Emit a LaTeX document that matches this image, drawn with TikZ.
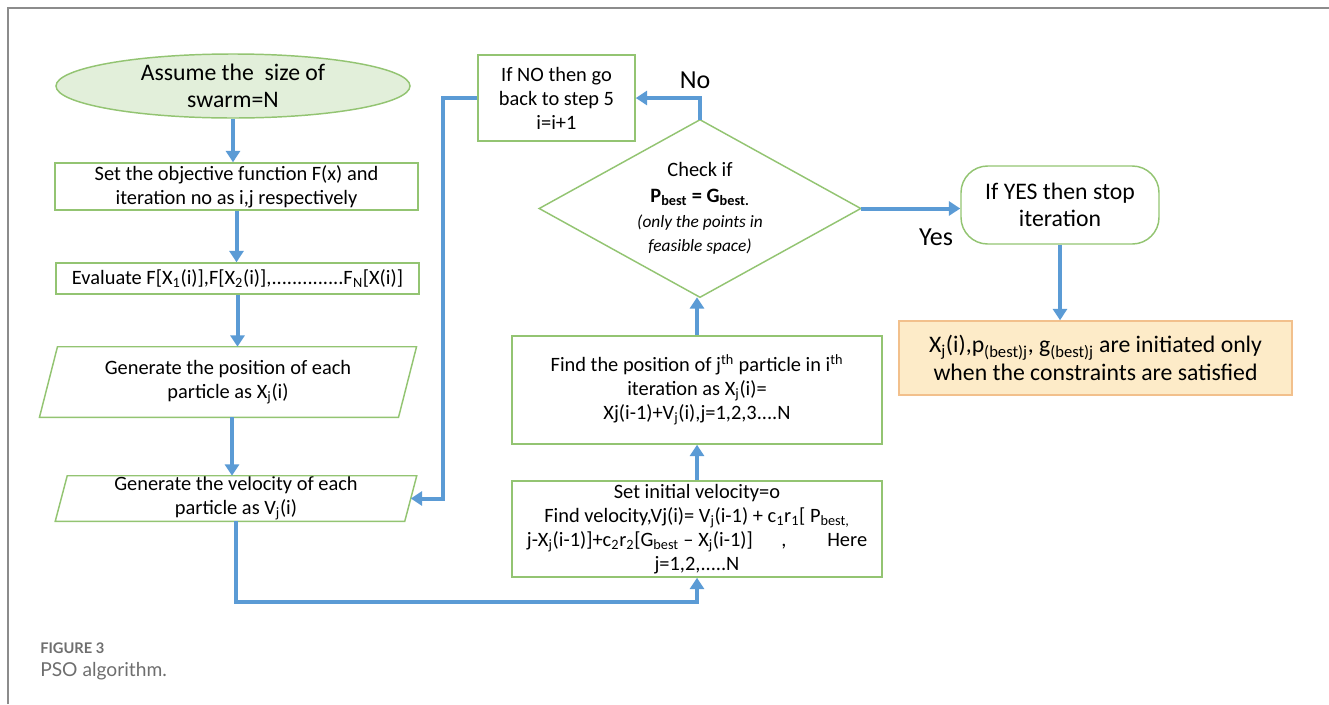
\documentclass[tikz,border=0pt]{standalone}
\usepackage{fontspec}
\setmainfont{Carlito}
\newfontfamily\capfont{Lato}
\usetikzlibrary{arrows.meta,shapes.geometric,calc}

\definecolor{flowblue}{HTML}{5B9BD5}
\definecolor{boxgreen}{HTML}{93C472}
\definecolor{startfill}{HTML}{E2EFDA}
\definecolor{notefill}{HTML}{FDEBC8}
\definecolor{noteedge}{HTML}{F2C08C}
\definecolor{framegray}{HTML}{8C8C8C}
\definecolor{capgray}{HTML}{6E6E6E}

\newcommand\bodyfs{\fontsize{15.3}{18}\selectfont}
\newcommand\bigfs{\fontsize{17.8}{20.5}\selectfont}
\newcommand\notefs{\fontsize{13}{15.5}\selectfont}

\tikzset{
  gbox/.style={draw=boxgreen, line width=1.1pt, inner sep=0pt, align=center, font=\bodyfs},
  ghost/.style={inner sep=0pt, align=center, font=\bodyfs},
  flow/.style={draw=flowblue, line width=3pt, -{Triangle[width=10.5pt,length=8.5pt]}},
  lbl/.style={inner sep=0pt, font=\fontsize{19.5}{22}\selectfont},
}

\begin{document}
\begin{tikzpicture}[x=0.75pt,y=-0.75pt]
\useasboundingbox (0,0) rectangle (1329,704);

% outer frame
\draw[framegray, line width=1.5pt] (8,704) -- (8,8) -- (1329,8);

% left column
\node[ellipse, draw=boxgreen, fill=startfill, line width=1.1pt, inner sep=0pt,
      minimum width=265.5pt, minimum height=48pt, align=center, font=\bigfs]
  (start) at (233,86) {Assume the\ \ size of\\swarm=N};

\node[gbox, minimum width=272.25pt, minimum height=35.25pt] (objf) at (236.5,186.5)
  {Set the objective function F(x) and\\iteration no as i,j respectively};

\node[gbox, minimum width=272.25pt, minimum height=23.25pt] (eval) at (237.5,278.5)
  {Evaluate F[X\textsubscript{1}(i)],F[X\textsubscript{2}(i)],..............F\textsubscript{N}[X(i)]};

\node[ghost, minimum width=268.9pt, minimum height=52.5pt] (pos) at (228,382)
  {Generate the position of each\\particle as X\textsubscript{j}(i)};
\draw[boxgreen, line width=1.1pt]
  ($(pos.north west)+(9,0)$) -- ($(pos.north east)+(9,0)$) --
  ($(pos.south east)+(-9,0)$) -- ($(pos.south west)+(-9,0)$) -- cycle;

\node[ghost, minimum width=261.75pt, minimum height=33.75pt] (vel) at (236,498.5)
  {Generate the velocity of each\\particle as V\textsubscript{j}(i)};
\draw[boxgreen, line width=1.1pt]
  ($(vel.north west)+(6,0)$) -- ($(vel.north east)+(6,0)$) --
  ($(vel.south east)+(-6,0)$) -- ($(vel.south west)+(-6,0)$) -- cycle;

% middle column
\node[gbox, minimum width=117.75pt, minimum height=64.5pt] (back) at (556.5,98)
  {If NO then go\\back to step 5\\i=i+1};

\node[ghost, minimum width=240.75pt, minimum height=132.75pt] (chk) at (700,208.5)
  {Check if\\[1pt]\textbf{P\textsubscript{best} = G\textsubscript{best.}}\\[1pt]
   \notefs\itshape (only the points in\\\notefs\itshape feasible space)};
\draw[boxgreen, line width=1.1pt] (chk.north) -- (chk.east) -- (chk.south) -- (chk.west) -- cycle;

\node[gbox, minimum width=277.5pt, minimum height=81pt] (findpos) at (697,390)
  {Find the position of j\textsuperscript{th} particle in i\textsuperscript{th}\\
   iteration as X\textsubscript{j}(i)=\\
   Xj(i-1)+V\textsubscript{j}(i),j=1,2,3....N};

\node[gbox, minimum width=277.5pt, minimum height=72pt] (setv) at (697,529)
  {Set initial velocity=o\\
   Find velocity,Vj(i)= V\textsubscript{j}(i-1) + c\textsubscript{1}r\textsubscript{1}[ P\textsubscript{best,}\\
   j-X\textsubscript{j}(i-1)]+c\textsubscript{2}r\textsubscript{2}[G\textsubscript{best} -- X\textsubscript{j}(i-1)]\hspace{1.4em},\hspace{2em}Here\\
   j=1,2,.....N};

% right column
\node[draw=boxgreen, line width=1.1pt, rounded corners=20pt, inner sep=0pt,
      minimum width=148.5pt, minimum height=58.5pt, align=center, font=\bigfs]
  (stop) at (1060,205) {If YES then stop\\iteration};

\node[draw=noteedge, fill=notefill, line width=1.1pt, inner sep=0pt,
      minimum width=294.75pt, minimum height=55.5pt, align=center, font=\bigfs]
  (note) at (1095.5,358)
  {X\textsubscript{j}(i),p\textsubscript{(best)j}, g\textsubscript{(best)j} are initiated only\\when the constraints are satisfied};

% connectors
\draw[flow] (start.south) -- (start.south |- objf.north);
\draw[flow] (objf.south) -- (objf.south |- eval.north);
\draw[flow] (eval.south) -- (eval.south |- pos.north);
\draw[flow] ([xshift=3pt]pos.south) -- ([xshift=3pt]pos.south |- vel.north);

\coordinate (lowrun) at (400,602);
\draw[flow] (vel.south) |- (lowrun) -| (setv.south);
\draw[flow] (setv.north) -- (findpos.south);
\draw[flow] (findpos.north) -- (findpos.north |- chk.south);
\draw[flow] (chk.north) |- (back.east);

\coordinate (loopx) at (443,300);
\draw[flow] (back.west) -| (loopx) |- (vel.east);

\draw[flow] (chk.east) -- (chk.east -| stop.west);
\draw[flow] (stop.south) -- (stop.south |- note.north);

% branch labels
\node[lbl] (nolbl) at (695,80) {No};
\node[lbl] (yeslbl) at (936,237) {Yes};

% caption
\node[anchor=west, inner sep=0pt, text=capgray, font=\capfont\bfseries\fontsize{11}{13}\selectfont]
  (capnum) at (40,648) {FIGURE 3};
\node[anchor=west, inner sep=0pt, text=capgray, font=\capfont\fontsize{14.4}{17}\selectfont]
  (captxt) at (40,671) {PSO algorithm.};
\end{tikzpicture}
\end{document}
